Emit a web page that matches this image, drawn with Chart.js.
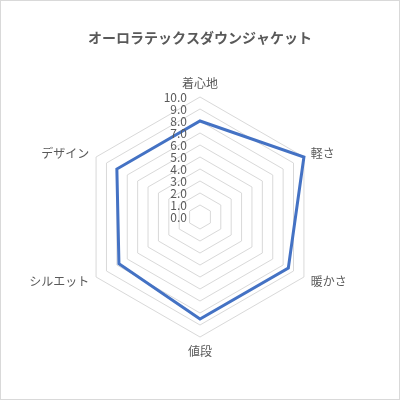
<!DOCTYPE html>
<html>
<head>
<meta charset="utf-8">
<script src="https://cdn.jsdelivr.net/npm/chart.js@4"></script>
<style>
  html, body { margin: 0; padding: 0; background: #fff; }
  #wrap { width: 400px; height: 400px; position: relative; }
</style>
</head>
<body>
<div id="wrap"><canvas id="radar"></canvas></div>
<script>
// データ
const categories = ['着心地', '軽さ', '暖かさ', '値段', 'シルエット', 'デザイン'];
const scores = [8, 10, 8.5, 8.5, 7.8, 8];
const tickLabels = ['0.0', '1.0', '2.0', '3.0', '4.0', '5.0', '6.0', '7.0', '8.0', '9.0', '10.0'];

const FONT = '"Noto Sans CJK JP", "Noto Sans", sans-serif';
const TEXT_GRAY = '#595959';

// Excel風の枠線・目盛ラベル・項目ラベル
const excelStyle = {
  id: 'excelStyle',
  beforeDraw(chart) {
    const ctx = chart.ctx;
    ctx.save();
    ctx.fillStyle = '#fff';
    ctx.fillRect(0, 0, chart.width, chart.height);
    ctx.strokeStyle = '#d9d9d9';
    ctx.lineWidth = 1;
    ctx.strokeRect(0.5, 0.5, chart.width - 1, chart.height - 1);
    ctx.restore();
  },
  afterDraw(chart) {
    const ctx = chart.ctx;
    const r = chart.scales.r;
    ctx.save();
    ctx.fillStyle = TEXT_GRAY;

    // 目盛
    ctx.font = '12px ' + FONT;
    ctx.textAlign = 'right';
    ctx.textBaseline = 'middle';
    r.ticks.forEach((t, i) => {
      const y = r.yCenter - r.getDistanceFromCenterForValue(t.value);
      ctx.fillText(tickLabels[i], r.xCenter - 13, y);
    });

    // 項目名
    ctx.font = '12px ' + FONT;
    categories.forEach((label, i) => {
      const p = r.getPointPosition(i, r.drawingArea + 8);
      const dx = p.x - r.xCenter;
      if (Math.abs(dx) < 1) {
        ctx.textAlign = 'center';
        ctx.textBaseline = p.y < r.yCenter ? 'bottom' : 'top';
      } else {
        ctx.textAlign = dx > 0 ? 'left' : 'right';
        ctx.textBaseline = 'middle';
      }
      ctx.fillText(label, p.x, p.y);
    });
    ctx.restore();
  }
};

const ctx = document.getElementById('radar').getContext('2d');
new Chart(ctx, {
  type: 'radar',
  data: {
    labels: categories,
    datasets: [{
      data: scores,
      borderColor: '#4472C4',
      borderWidth: 3,
      pointRadius: 0,
      pointHoverRadius: 0,
      fill: false
    }]
  },
  options: {
    responsive: true,
    maintainAspectRatio: false,
    animation: false,
    layout: {
      padding: { left: 80, right: 80, top: 0, bottom: 62 }
    },
    plugins: {
      legend: { display: false },
      tooltip: { enabled: false },
      title: {
        display: true,
        text: 'オーロラテックスダウンジャケット',
        color: TEXT_GRAY,
        font: { family: FONT, size: 14, weight: 'bold' },
        padding: { top: 29, bottom: 52 }
      }
    },
    scales: {
      r: {
        min: 0,
        max: 10,
        ticks: { stepSize: 1, display: false },
        pointLabels: { display: false },
        angleLines: { display: false },
        grid: { color: '#d9d9d9', lineWidth: 1 }
      }
    }
  },
  plugins: [excelStyle]
});
</script>
</body>
</html>
